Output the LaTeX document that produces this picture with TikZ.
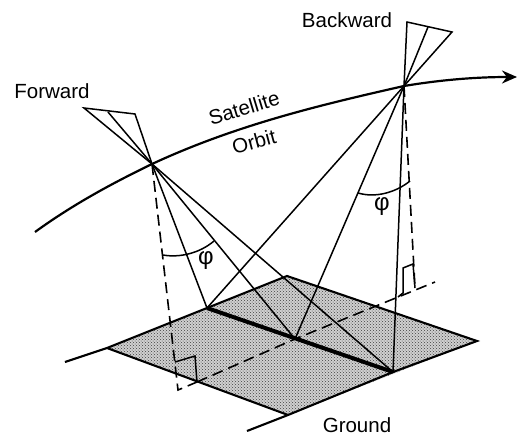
\documentclass[tikz,border=0pt]{standalone}
\usepackage{fontspec}
\setmainfont{Liberation Sans}
\usepackage{xcolor}
\usetikzlibrary{arrows.meta,positioning,calc,patterns}
\definecolor{groundgray}{RGB}{208,208,208}

\begin{document}
\begin{tikzpicture}[x=1pt,y=-1pt,>=Stealth,every node/.style={font=\fontsize{20.5}{24}\selectfont,inner sep=0pt},
  thinline/.style={line width=1.5pt},
  dashline/.style={line width=1.6pt,dash pattern=on 11pt off 6pt},
  edgeline/.style={line width=2.1pt}]
\useasboundingbox (0,0) rectangle (517,437);
% satellite positions and ground points
\coordinate (fwd) at (152,164);
\coordinate (bwd) at (404,86);
\coordinate (gleft) at (107,348);
\coordinate (gtop) at (287,276);
\coordinate (gright) at (477,341);
\coordinate (gbot) at (288,415);
\coordinate (sw1) at (207,308);
\coordinate (sw2) at (295,339);
\coordinate (sw3) at (393,372);
\coordinate (track1) at (178,390);
\coordinate (track2) at (197,382);
\coordinate (track3) at (435,282);
\coordinate (bfoot) at (415,288);
% ground
\fill[groundgray] (gleft) -- (gtop) -- (gright) -- (gbot) -- cycle;
\fill[pattern=crosshatch dots,pattern color=black!75] (gleft) -- (gtop) -- (gright) -- (gbot) -- cycle;
\draw[edgeline] (65,362) -- (gleft) -- (gtop) -- (gright) -- (sw3) -- (gbot) -- (247,431);
\draw[edgeline] (gleft) -- (gbot);
\draw[line width=4pt] (sw1) -- (sw3);
% orbit
\draw[line width=2.2pt] (35,232) .. controls (75,203) and (115,182) .. (fwd)
  .. controls (236,125) and (320,105) .. (bwd);
\draw[line width=2.2pt,-{Stealth[length=15pt,width=13pt]}] (bwd) .. controls (440,80) and (475,77) .. (517,77);
% small cones
\draw[thinline] (84,108) -- (135,114) -- (fwd) -- cycle;
\draw[thinline] (108,112) -- (fwd);
\draw[thinline] (407,22) -- (452,32) -- (bwd) -- cycle;
\draw[thinline] (428,27) -- (bwd);
% rays
\foreach \p in {sw1,sw2,sw3} {
  \draw[thinline] (fwd) -- (\p);
  \draw[thinline] (bwd) -- (\p);
}
% dashed
\draw[dashline] (fwd) -- (track1) -- (track2);
\draw[dashline] (track2) -- (sw2) -- (track3);
\draw[dashline] (bwd) -- (bfoot);
% right angles
\draw[thinline] (175,362) -- (195,356) -- (track2);
\draw[thinline] (398,297) -- (403,293) -- (403,268) -- (413,264) -- (bfoot);
% angle arcs
\draw[thinline] (163,255) .. controls (180,258) and (200,253) .. (214,241);
\draw[thinline] (358,193) .. controls (375,198) and (395,193) .. (410,181);
\node[font=\fontsize{24}{24}\selectfont] (phi1) at (206,261) {φ};
\node[font=\fontsize{24}{24}\selectfont] (phi2) at (382,207) {φ};
% labels
\node (forward) at (52,91) {Forward};
\node (backward) at (347,20) {Backward};
\node (ground) at (357,425) {Ground};
\node[rotate=17] (satellite) at (244,108) {Satellite};
\node[rotate=15] (orbit) at (254,142) {Orbit};
\end{tikzpicture}
\end{document}
